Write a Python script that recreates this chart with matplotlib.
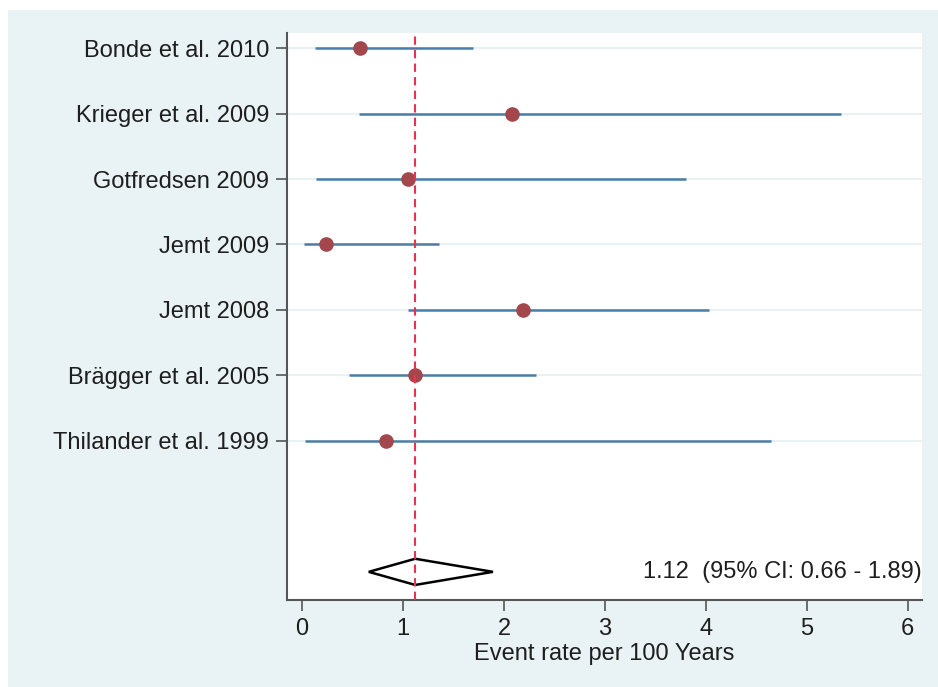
import matplotlib.pyplot as plt
from matplotlib.patches import Polygon, Rectangle

studies = ['Bonde et al. 2010', 'Krieger et al. 2009', 'Gotfredsen 2009',
           'Jemt 2009', 'Jemt 2008', 'Brägger et al. 2005', 'Thilander et al. 1999']
rate = [0.57, 2.08, 1.05, 0.24, 2.19, 1.12, 0.83]
low = [0.13, 0.56, 0.14, 0.02, 1.05, 0.46, 0.03]
high = [1.69, 5.34, 3.80, 1.36, 4.03, 2.32, 4.64]

pooled = 1.12
pooled_low = 0.66
pooled_high = 1.89
pooled_text = '1.12  (95% CI: 0.66 - 1.89)'

bg = '#e9f2f4'
fs = 17
plt.rcParams['font.family'] = ['Liberation Sans', 'DejaVu Sans']

fig = plt.figure(figsize=(9.38, 6.87), dpi=100)
fig.patch.set_facecolor('white')
fig.patches.append(Rectangle((8 / 938, 0), 1, 1 - 10 / 687, transform=fig.transFigure,
                             facecolor=bg, edgecolor='none', zorder=-10))
ax = fig.add_axes([287 / 938, 87 / 687, 635 / 938, 567 / 687])
ax.set_facecolor('white')

rows = list(range(len(studies)))
for r in rows:
    ax.axhline(r, color='#e6eff2', lw=1.2, zorder=0)

ax.hlines(rows, low, high, color='#4a7ea6', lw=1.8, zorder=2)
ax.plot(rate, rows, 'o', color='#a3474d', ms=9.5, zorder=3)

prow = len(studies) + 1
h = 0.2
ax.add_patch(Polygon([(pooled_low, prow), (pooled, prow - h), (pooled_high, prow), (pooled, prow + h)],
                     closed=True, facecolor='white', edgecolor='black', lw=1.8, zorder=2))
ax.axvline(pooled, color='#e8344a', lw=1.5, ls=(0, (4, 2.5)), zorder=4)

ax.text(6.14, prow, pooled_text, ha='right', va='center', fontsize=fs, color='#1e1e1e')

ax.set_xlim(-0.15, 6.14)
ax.set_ylim(prow + 0.43, -0.23)
ax.set_xticks(range(7))
ax.set_yticks(rows)
ax.set_yticklabels(studies)
ax.tick_params(axis='both', labelsize=fs, length=8, width=1.2, color='#555555', labelcolor='#1e1e1e')
ax.tick_params(axis='x', pad=5)
ax.tick_params(axis='y', pad=5)
ax.set_xlabel('Event rate per 100 Years', fontsize=fs, color='#1e1e1e', labelpad=2)

for s in ['top', 'right']:
    ax.spines[s].set_visible(False)
for s in ['left', 'bottom']:
    ax.spines[s].set_color('#555555')
    ax.spines[s].set_linewidth(1.5)

fig.savefig('out.png', dpi=100, facecolor=fig.get_facecolor())
